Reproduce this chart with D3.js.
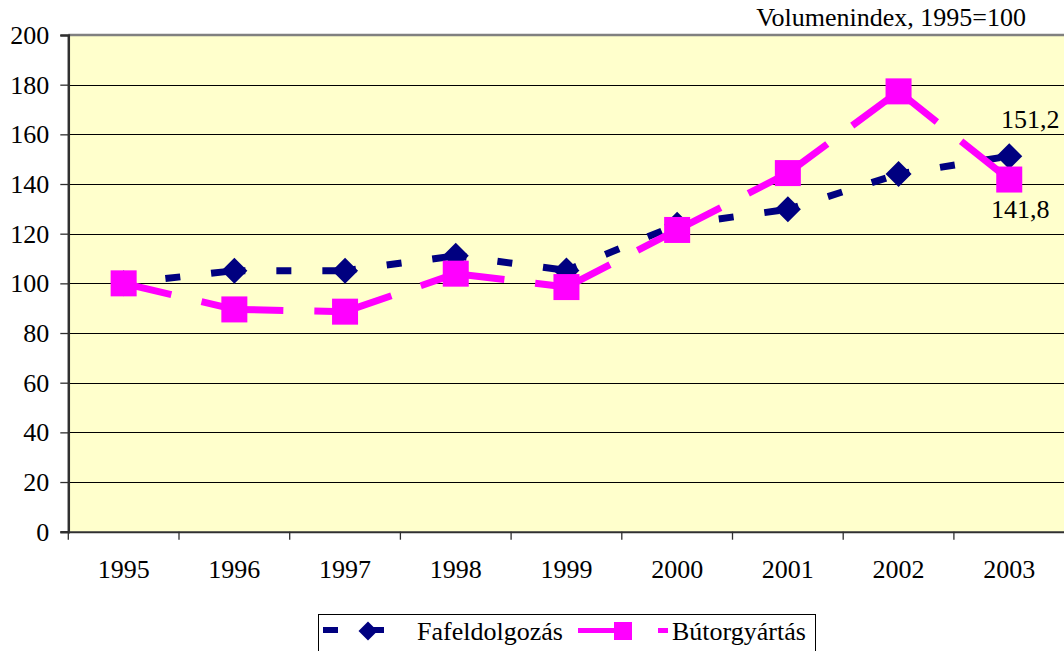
<!DOCTYPE html>
<html>
<head>
<meta charset="utf-8">
<script src="https://cdn.jsdelivr.net/npm/d3@7"></script>
<style>
  html, body { margin: 0; padding: 0; background: #ffffff; }
  svg { display: block; }
  svg text { font-family: "Liberation Serif", "Times New Roman", Tinos, "Noto Serif", "DejaVu Serif", serif !important; fill: #000; }
</style>
</head>
<body>
<svg id="chart" width="1064" height="651"></svg>
<script>
// ---- data ----
const years = ["1995", "1996", "1997", "1998", "1999", "2000", "2001", "2002", "2003"];
const fafeldolgozas = [100, 105.1, 105.1, 111.1, 105.2, 123.6, 129.8, 144.0, 151.2];
const butorgyartas = [100, 89.5, 88.6, 103.9, 98.5, 121.5, 144.4, 177.3, 141.8];
const yTicks = [0, 20, 40, 60, 80, 100, 120, 140, 160, 180, 200];
const seriesNames = ["Fafeldolgozás", "Bútorgyártás"];
const unitLabel = "Volumenindex, 1995=100";
const endLabels = ["151,2", "141,8"];

// ---- layout ----
const svg = d3.select("#chart");
const pLeft = 68.3, pRight = 1064.6, pTop = 35, pBottom = 531.7;
const fontSize = 26;

const x = d3.scaleBand().domain(years).range([pLeft, pRight]).padding(0);
const y = d3.scaleLinear().domain([0, 200]).range([pBottom, pTop]);
const cx = d => x(d) + x.bandwidth() / 2;

// plot background
svg.append("rect")
  .attr("x", pLeft).attr("y", pTop)
  .attr("width", pRight - pLeft).attr("height", pBottom - pTop)
  .attr("fill", "#FFFFCC");

// gridlines
svg.append("g").selectAll("line")
  .data(yTicks.filter(v => v > 0 && v < 200))
  .join("line")
  .attr("x1", pLeft).attr("x2", pRight)
  .attr("y1", d => Math.round(y(d)) + 0.5).attr("y2", d => Math.round(y(d)) + 0.5)
  .attr("stroke", "#000").attr("stroke-width", 1);

// top border
svg.append("line")
  .attr("x1", pLeft).attr("x2", pRight).attr("y1", pTop).attr("y2", pTop)
  .attr("stroke", "#808080").attr("stroke-width", 2.5);

// y axis
const yAxis = svg.append("g")
  .attr("transform", `translate(${pLeft},0)`)
  .call(d3.axisLeft(y).tickValues(yTicks).tickSize(8).tickPadding(11).tickFormat(d3.format("d")));
yAxis.attr("font-family", null);
yAxis.select(".domain").attr("stroke", "#303030").attr("stroke-width", 2.5);
yAxis.selectAll(".tick line").attr("stroke", "#303030").attr("stroke-width", 1.3);
yAxis.selectAll("text")
  .style("font-size", fontSize + "px")
  .attr("fill", "#000").attr("dy", "0.33em");

// x axis
const xAxis = svg.append("g")
  .attr("transform", `translate(0,${pBottom})`)
  .call(d3.axisBottom(x).tickSize(0).tickPadding(0));
xAxis.attr("font-family", null);
xAxis.select(".domain").attr("stroke", "#303030").attr("stroke-width", 2);
xAxis.selectAll("text")
  .style("font-size", fontSize + "px")
  .attr("fill", "#000").attr("y", 46).attr("dy", 0);
// boundary ticks
svg.append("g").selectAll("line")
  .data(years)
  .join("line")
  .attr("x1", d => x(d)).attr("x2", d => x(d))
  .attr("y1", pBottom).attr("y2", pBottom + 8)
  .attr("stroke", "#303030").attr("stroke-width", 1.3);

// ---- series ----
const navy = "#000080", magenta = "#FF00FF";
const line = d3.line().x(d => d[0]).y(d => d[1]);

function drawSeries(values, color, dash, offset) {
  const pts = values.map((v, i) => [cx(years[i]), y(v)]);
  const g = svg.append("g");
  for (let i = 0; i < pts.length - 1; i++) {
    g.append("path")
      .attr("d", line([pts[i], pts[i + 1]]))
      .attr("fill", "none")
      .attr("stroke", color)
      .attr("stroke-width", 7)
      .attr("stroke-dasharray", dash)
      .attr("stroke-dashoffset", offset);
  }
  return { g, pts };
}

const diamond = (s) => `M0,${-s}L${s},0L0,${s}L${-s},0Z`;

// Fafeldolgozás
const s1 = drawSeries(fafeldolgozas, navy, "15 31", 4);
s1.g.selectAll(".mk").data(s1.pts).join("path")
  .attr("class", "mk")
  .attr("transform", d => `translate(${d[0]},${d[1]})`)
  .attr("d", diamond(13))
  .attr("fill", navy);

// Bútorgyártás
const s2 = drawSeries(butorgyartas, magenta, "49 31", 0);
s2.g.selectAll(".mk").data(s2.pts).join("rect")
  .attr("class", "mk")
  .attr("x", d => d[0] - 13).attr("y", d => d[1] - 13)
  .attr("width", 26).attr("height", 26)
  .attr("fill", magenta);

// end value labels
const last = years.length - 1;
svg.append("text")
  .attr("x", cx(years[last]) + 21).attr("y", y(fafeldolgozas[last]) - 28)
  .attr("text-anchor", "middle").style("font-size", fontSize + "px")
  .text(endLabels[0]);
svg.append("text")
  .attr("x", cx(years[last]) + 11).attr("y", y(butorgyartas[last]) + 38.5)
  .attr("text-anchor", "middle").style("font-size", fontSize + "px")
  .text(endLabels[1]);

// unit label
svg.append("text")
  .attr("x", 1026).attr("y", 26)
  .attr("text-anchor", "end").style("font-size", fontSize + "px")
  .text(unitLabel);

// ---- legend ----
const lg = svg.append("g");
lg.append("rect")
  .attr("x", 318.5).attr("y", 614.5).attr("width", 497).attr("height", 60)
  .attr("fill", "#fff").attr("stroke", "#000").attr("stroke-width", 1);
const ly = 631;
// navy sample
lg.append("path").attr("d", line([[323, ly - 1], [413, ly - 1]]))
  .attr("stroke", navy).attr("stroke-width", 6).attr("stroke-dasharray", "15 31").attr("fill", "none");
lg.append("path").attr("transform", `translate(368,${ly})`).attr("d", diamond(9.5)).attr("fill", navy);
lg.append("text").attr("x", 417).attr("y", ly + 9).style("font-size", fontSize + "px").text(seriesNames[0]);
// magenta sample
lg.append("path").attr("d", line([[578, ly - 0.5], [668, ly - 0.5]]))
  .attr("stroke", magenta).attr("stroke-width", 5).attr("stroke-dasharray", "49 31").attr("fill", "none");
lg.append("rect").attr("x", 614).attr("y", ly - 9).attr("width", 18).attr("height", 18).attr("fill", magenta);
lg.append("text").attr("x", 672).attr("y", ly + 9).style("font-size", fontSize + "px").text(seriesNames[1]);
</script>
</body>
</html>
